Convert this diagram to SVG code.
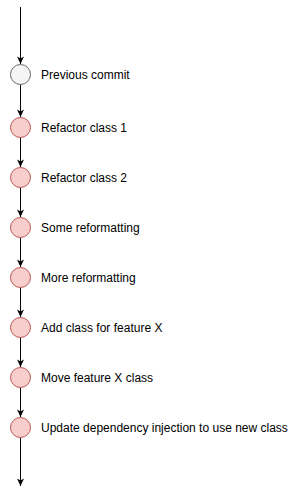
<svg xmlns="http://www.w3.org/2000/svg" width="300" height="496" viewBox="0 0 300 496">
<style>
.c{fill:#f8cecc;stroke:#b85450;stroke-width:1}
.g{fill:#f5f5f5;stroke:#666666;stroke-width:1}
.t{font-family:"Liberation Sans",Arial,sans-serif;font-size:12px;fill:#000}
.e{stroke:#000;stroke-width:1;fill:none;marker-end:url(#arr)}
</style>
<defs>
<marker id="arr" markerUnits="userSpaceOnUse" viewBox="-8 -4 9 8" refX="0" refY="0" markerWidth="9" markerHeight="8" orient="auto">
<path d="M0,0 L-7.5,-3.5 L-5.5,0 L-7.5,3.5 Z" fill="#000"/>
</marker>
</defs>
<rect width="300" height="496" fill="#fff"/>
<g id="connectors">
<path class="e" d="M20.5,7 V64"/>
<path class="e" d="M20.5,84.5 V117"/>
<path class="e" d="M20.5,137.5 V167"/>
<path class="e" d="M20.5,187.5 V217"/>
<path class="e" d="M20.5,237.5 V267"/>
<path class="e" d="M20.5,287.5 V317"/>
<path class="e" d="M20.5,337.5 V367"/>
<path class="e" d="M20.5,387.5 V417"/>
<path class="e" d="M20.5,437.5 V486"/>
</g>
<g id="n0"><circle class="g" cx="20.5" cy="74.5" r="10"/><text class="t" x="41" y="78.5">Previous commit</text></g>
<g id="n1"><circle class="c" cx="20.5" cy="127.5" r="10"/><text class="t" x="41" y="131.5">Refactor class 1</text></g>
<g id="n2"><circle class="c" cx="20.5" cy="177.5" r="10"/><text class="t" x="41" y="181.5">Refactor class 2</text></g>
<g id="n3"><circle class="c" cx="20.5" cy="227.5" r="10"/><text class="t" x="41" y="231.5">Some reformatting</text></g>
<g id="n4"><circle class="c" cx="20.5" cy="277.5" r="10"/><text class="t" x="41" y="281.5">More reformatting</text></g>
<g id="n5"><circle class="c" cx="20.5" cy="327.5" r="10"/><text class="t" x="41" y="331.5">Add class for feature X</text></g>
<g id="n6"><circle class="c" cx="20.5" cy="377.5" r="10"/><text class="t" x="41" y="381.5">Move feature X class</text></g>
<g id="n7"><circle class="c" cx="20.5" cy="427.5" r="10"/><text class="t" x="41" y="431.5">Update dependency injection to use new class</text></g>
</svg>
